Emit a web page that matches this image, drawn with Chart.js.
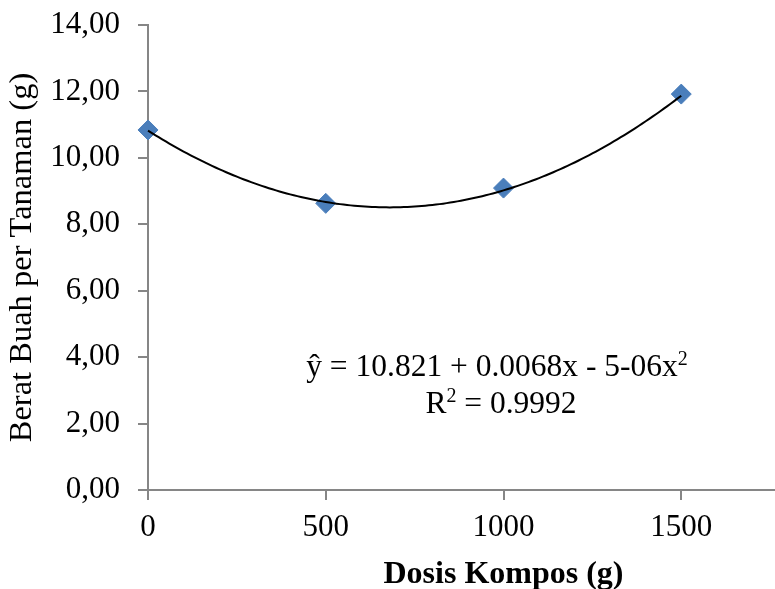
<!DOCTYPE html>
<html>
<head>
<meta charset="utf-8">
<script src="https://cdn.jsdelivr.net/npm/chart.js@4.4.1/dist/chart.umd.min.js"></script>
<style>
    html, body { margin: 0; padding: 0; background: #fff; overflow: hidden; }
    #wrap { width: 775px; height: 589px; overflow: hidden; }
    canvas { display: block; }
</style>
</head>
<body>
<div id="wrap"><canvas id="grafik" width="860" height="589"></canvas></div>
<script>
// data
const dosis = [0, 500, 1000, 1500];
const berat = [10.84, 8.63, 9.09, 11.92];
const trendCoef = [10.821, -0.0068, 0.000005]; // polynomial trendline (order 2)
const eqLine1 = [['ŷ = 10.821 + 0.0068x - 5-06x', false], ['2', true]];
const eqLine2 = [['R', false], ['2', true], [' = 0.9992', false]];
const xTitle = 'Dosis Kompos (g)';
const yTitle = 'Berat Buah per Tanaman (g)';

const SERIF = '"Liberation Serif", "Times New Roman", serif';
const AXIS = '#868686';

// the fitted curve, drawn on top of the markers like Excel does
const trendline = {
    id: 'trendline',
    afterDatasetsDraw(chart) {
        const { ctx, scales: { x, y } } = chart;
        ctx.save();
        ctx.beginPath();
        let first = true;
        for (let v = dosis[0]; v <= dosis[dosis.length - 1]; v += 10) {
            const yv = trendCoef[0] + trendCoef[1] * v + trendCoef[2] * v * v;
            const px = x.getPixelForValue(v);
            const py = y.getPixelForValue(yv);
            if (first) { ctx.moveTo(px, py); first = false; } else { ctx.lineTo(px, py); }
        }
        ctx.lineWidth = 2;
        ctx.strokeStyle = '#000';
        ctx.stroke();
        ctx.restore();
    }
};

function drawRich(ctx, parts, cx, baseline) {
    const main = '31.5px ' + SERIF;
    const sup = '20px ' + SERIF;
    let total = 0;
    parts.forEach(p => {
        ctx.font = p[1] ? sup : main;
        total += ctx.measureText(p[0]).width;
    });
    let x = cx - total / 2;
    parts.forEach(p => {
        ctx.font = p[1] ? sup : main;
        ctx.fillText(p[0], x, p[1] ? baseline - 11 : baseline);
        x += ctx.measureText(p[0]).width;
    });
}

const equation = {
    id: 'equation',
    afterDraw(chart) {
        const { ctx } = chart;
        ctx.save();
        ctx.fillStyle = '#000';
        ctx.textAlign = 'left';
        ctx.textBaseline = 'alphabetic';
        drawRich(ctx, eqLine1, 497, 376);
        drawRich(ctx, eqLine2, 501, 413);
        ctx.restore();
    }
};

new Chart(document.getElementById('grafik'), {
    type: 'scatter',
    data: {
        datasets: [{
            data: dosis.map((d, i) => ({ x: d, y: berat[i] })),
            pointStyle: 'rectRot',
            pointRadius: 10,
            backgroundColor: '#4a7ebb',
            borderColor: '#4a7ebb',
            borderWidth: 1,
            clip: false
        }]
    },
    options: {
        responsive: false,
        animation: false,
        devicePixelRatio: 1,
        layout: { autoPadding: false, padding: { top: 25, right: 1, left: 0, bottom: 0 } },
        plugins: {
            legend: { display: false },
            tooltip: { enabled: false }
        },
        scales: {
            x: {
                type: 'linear',
                min: 0,
                max: 2000,
                ticks: {
                    stepSize: 500,
                    padding: 9,
                    color: '#000',
                    font: { family: SERIF, size: 31 },
                    callback: v => String(v)
                },
                afterBuildTicks(scale) {
                    // 2000 lies outside the cropped picture
                    scale.ticks = scale.ticks.filter(t => t.value <= 1500);
                },
                grid: { drawOnChartArea: false, tickLength: 10, color: AXIS, lineWidth: 2 },
                border: { color: AXIS, width: 2 },
                title: {
                    display: true,
                    text: xTitle,
                    color: '#000',
                    font: { family: SERIF, size: 32, weight: 'bold', lineHeight: 0.91 },
                    padding: 0
                },
                afterFit(scale) {
                    scale.height = 99;
                    scale.paddingLeft = 0;
                    scale.paddingRight = 0;
                }
            },
            y: {
                min: 0,
                max: 14,
                ticks: {
                    stepSize: 2,
                    padding: 18,
                    color: '#000',
                    font: { family: SERIF, size: 31 },
                    callback: v => v.toFixed(2).replace('.', ',')
                },
                grid: { drawOnChartArea: false, tickLength: 10, color: AXIS, lineWidth: 2 },
                border: { color: AXIS, width: 2 },
                title: {
                    display: true,
                    text: yTitle,
                    color: '#000',
                    font: { family: SERIF, size: 32.5, lineHeight: 1.2 },
                    padding: { top: 3, bottom: 0 }
                },
                afterFit(scale) {
                    scale.width = 148;
                    scale.paddingTop = 0;
                    scale.paddingBottom = 0;
                }
            }
        }
    },
    plugins: [trendline, equation]
});
</script>
</body>
</html>
